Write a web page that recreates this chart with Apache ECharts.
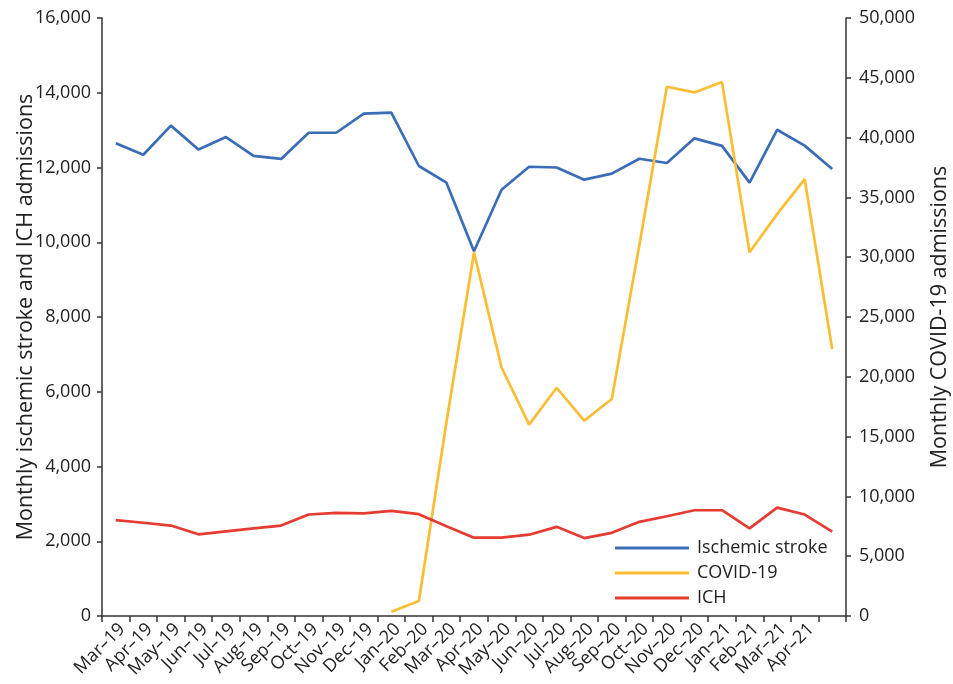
<!DOCTYPE html>
<html>
<head>
<meta charset="utf-8">
<script src="https://cdn.jsdelivr.net/npm/echarts@6/dist/echarts.min.js"></script>
<style>
html,body{margin:0;padding:0;background:#fff;overflow:hidden;}
#chart{width:953px;height:684px;}
</style>
</head>
<body>
<div id="chart"></div>
<script>
var months = ["Mar–19","Apr–19","May–19","Jun–19","Jul–19","Aug–19","Sep–19","Oct–19","Nov–19","Dec–19",
  "Jan–20","Feb–20","Mar–20","Apr–20","May–20","Jun–20","Jul–20","Aug–20","Sep–20","Oct–20","Nov–20","Dec–20",
  "Jan–21","Feb–21","Mar–21","Apr–21",""];
var ischemicStroke = [12650,12340,13120,12480,12815,12310,12230,12930,12930,13440,13470,12040,11595,
  9760,11405,12020,12000,11675,11835,12235,12120,12780,12580,11595,13010,12585,11960];
var ich = [2565,2495,2420,2185,2265,2345,2420,2715,2760,2745,2815,2725,2400,
  2095,2095,2175,2385,2085,2225,2520,2670,2830,2830,2345,2900,2715,2255];
var covid = [null,null,null,null,null,null,null,null,null,null,
  350,1250,16200,30400,20780,16000,19080,16330,18140,31000,44250,43780,44640,30420,33600,36530,22300];
var leftTicks = {min:0,max:16000,interval:2000};
var rightTicks = {min:0,max:50000,interval:5000};

var fmt = function(v){ return v.toLocaleString('en-US'); };
var FONT = '"Open Sans", "Noto Sans", sans-serif';
var axisColor = '#333';

var chart = echarts.init(document.getElementById('chart'));
chart.setOption({
  animation:false,
  textStyle:{fontFamily:FONT},
  grid:{left:102,right:107,top:18,bottom:68,containLabel:false,outerBoundsMode:'none'},
  legend:{
    orient:'vertical', left:615, top:538, padding:0,
    icon:'rect', itemWidth:74, itemHeight:3, itemGap:5,
    textStyle:{fontSize:18,color:'#222',fontFamily:FONT,lineHeight:20,padding:[0,0,0,3]},
    data:['Ischemic stroke','COVID-19','ICH']
  },
  xAxis:{
    type:'category', data:months, boundaryGap:true,
    axisLine:{lineStyle:{color:axisColor,width:1.5}},
    axisTick:{show:true,length:6,lineStyle:{color:axisColor,width:1.5}},
    axisLabel:{interval:0,rotate:45,fontSize:18,color:'#222',margin:4,verticalAlign:'top',fontFamily:FONT}
  },
  yAxis:[{
    type:'value', min:leftTicks.min, max:leftTicks.max, interval:leftTicks.interval,
    name:'Monthly ischemic stroke and ICH admissions', nameLocation:'middle', nameGap:65,
    nameMoveOverlap:false,
    nameTextStyle:{fontSize:21.5,color:'#222',fontFamily:FONT},
    axisLine:{show:true,lineStyle:{color:axisColor,width:1.5}},
    axisTick:{show:true,length:5,lineStyle:{color:axisColor,width:1.5}},
    splitLine:{show:false},
    axisLabel:{formatter:fmt,fontSize:18,color:'#222',margin:11,fontFamily:FONT}
  },{
    type:'value', position:'right', min:rightTicks.min, max:rightTicks.max, interval:rightTicks.interval,
    name:'Monthly COVID-19 admissions', nameLocation:'middle', nameGap:83,
    nameTextStyle:{fontSize:21.5,color:'#222',fontFamily:FONT},
    axisLine:{show:true,lineStyle:{color:axisColor,width:1.5}},
    axisTick:{show:true,length:5,lineStyle:{color:axisColor,width:1.5}},
    splitLine:{show:false},
    axisLabel:{formatter:fmt,fontSize:18,color:'#222',margin:13,fontFamily:FONT}
  }],
  series:[{
    name:'Ischemic stroke', type:'line', data:ischemicStroke, yAxisIndex:0,
    symbol:'none', color:'#3B6DB6', lineStyle:{width:2.7,color:'#3B6DB6'}
  },{
    name:'COVID-19', type:'line', data:covid, yAxisIndex:1,
    symbol:'none', color:'#FBBD35', lineStyle:{width:2.7,color:'#FBBD35'}
  },{
    name:'ICH', type:'line', data:ich, yAxisIndex:0,
    symbol:'none', color:'#E63B30', lineStyle:{width:2.7,color:'#E63B30'}
  }]
});
</script>
</body>
</html>
